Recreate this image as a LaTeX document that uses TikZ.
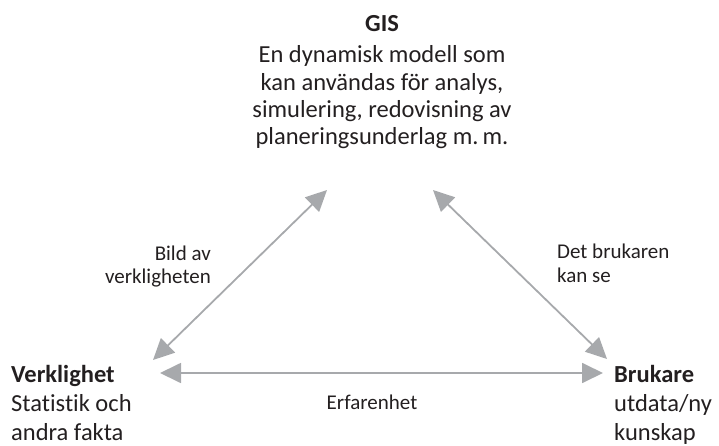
\documentclass[tikz,border=0pt]{standalone}
\usepackage{fontspec}
\setmainfont{Carlito}[Ligatures=NoCommon]
\usetikzlibrary{arrows.meta}
\definecolor{txt}{HTML}{231F20}
\definecolor{arr}{HTML}{A7A9AC}
\begin{document}
\begin{tikzpicture}[x=1pt,y=-1pt,
  big/.style={anchor=base,inner sep=0pt,text=txt,font=\fontsize{24.5}{27}\selectfont},
  bigb/.style={big,font=\fontsize{24.5}{27}\selectfont\bfseries},
  lbl/.style={anchor=base,inner sep=0pt,text=txt,font=\fontsize{21}{23}\selectfont},
  link/.style={draw=arr,line width=1.8pt,{Triangle[length=21pt,width=20pt]}-{Triangle[length=21pt,width=20pt]}}]
\useasboundingbox (0,0) rectangle (719,446);
% top text
\node[bigb] (gis) at (382,32) {GIS};
\node[big] (t1) at (382,63) {En dynamisk modell som};
\node[big] (t2) at (382,91) {kan användas för analys,};
\node[big] (t3) at (382,118) {simulering, redovisning av};
\node[big] (t4) at (382,145) {planeringsunderlag m.\,m.};
% bottom left
\node[bigb,anchor=base west] (v1) at (11,382) {Verklighet};
\node[big,anchor=base west] (v2) at (11,411) {Statistik och};
\node[big,anchor=base west] (v3) at (11,440) {andra fakta};
% bottom right
\node[bigb,anchor=base west] (b1) at (614,382) {Brukare};
\node[big,anchor=base west] (b2) at (614,411) {utdata/ny};
\node[big,anchor=base west] (b3) at (614,440) {kunskap};
% labels
\node[lbl,anchor=base east] (l1) at (211,260) {Bild av};
\node[lbl,anchor=base east] (l2) at (211,283) {verkligheten};
\node[lbl,anchor=base west] (r1) at (557,258) {Det brukaren};
\node[lbl,anchor=base west] (r2) at (557,282) {kan se};
\node[lbl] (e) at (372,409) {Erfarenhet};
% arrow endpoints
\coordinate (gl) at (327,190);
\coordinate (gr) at (433,190);
\coordinate (vd) at (153,360);
\coordinate (vh) at (160,373);
\coordinate (bh) at (603,373);
\coordinate (bd) at (607,359);
\draw[link] (vd) -- (gl);
\draw[link] (gr) -- (bd);
\draw[link] (vh) -- (bh);
\end{tikzpicture}
\end{document}
